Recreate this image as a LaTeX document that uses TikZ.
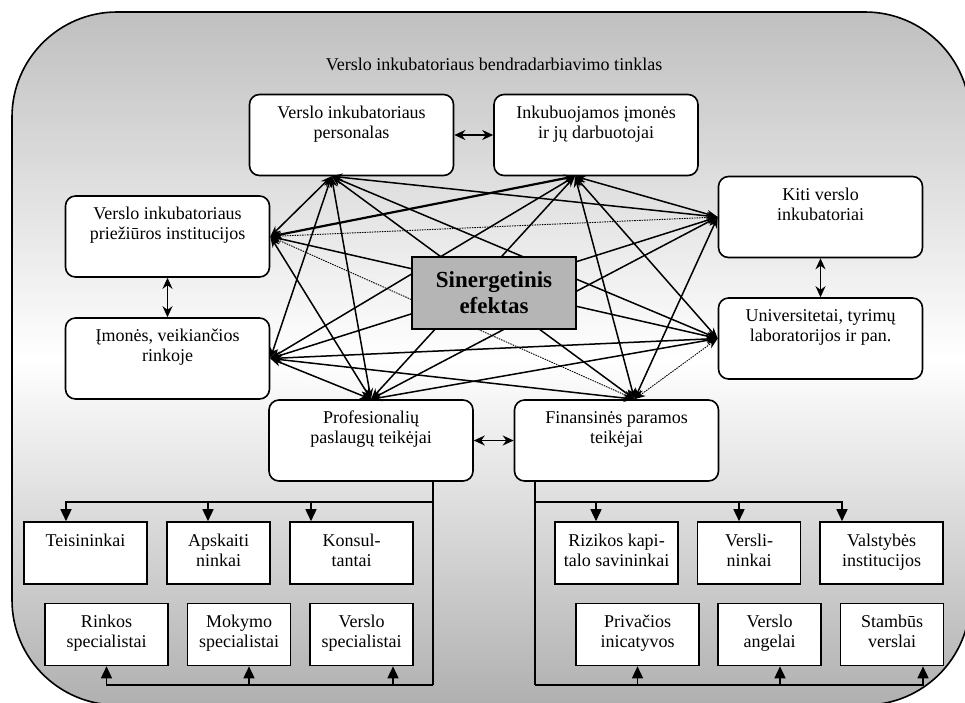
\documentclass[tikz,border=0pt]{standalone}
\usepackage{fontspec}
\setmainfont{Liberation Serif}
\usepackage{tikz}
\usetikzlibrary{arrows.meta,positioning,calc}

\begin{document}
\begin{tikzpicture}[
    x=1pt, y=-1pt,
    font=\fontsize{18}{20}\selectfont,
    block/.style={
      rectangle, draw=black, fill=white, line width=1.6pt,
      minimum height=81pt, minimum width=204pt,
      inner sep=0pt, align=center, rounded corners=10pt,
      execute at begin node=\strut, execute at end node=\strut
    },
    unit/.style={
      rectangle, draw=black, fill=white, line width=1.6pt,
      minimum height=62pt, minimum width=123pt,
      inner sep=0pt, align=center,
      execute at begin node=\strut, execute at end node=\strut
    },
    arrow/.style={{Stealth[length=11pt,width=8pt]}-{Stealth[length=11pt,width=8pt]}, line width=1.5pt},
    weak/.style={arrow, densely dotted, line width=0.9pt},
    link/.style={{Stealth[length=11pt,width=10pt]}-{Stealth[length=11pt,width=10pt]}, line width=1.7pt},
    feed/.style={-{Triangle[length=12pt,width=11pt]}, line width=1.5pt}
  ]
  \useasboundingbox (0,0) rectangle (965,702);
  % background frame
  \draw[line width=1.6pt, top color=gray!50, bottom color=gray!62, middle color=white,
    rounded corners=105pt] (12,12) rectangle (970,705);
  \node (title) at (494,64) {Verslo inkubatoriaus bendradarbiavimo tinklas};
  % Nodes -- ring
  \node[block] (pers) at (351.5,135) {Verslo inkubatoriaus\\ personalas\\ ~};
  \node[block] (inku) at (596,135) {Inkubuojamos įmonės\\ ir jų darbuotojai\\ ~};
  \node[block] (kiti) at (820.5,217) {Kiti verslo\\ inkubatoriai\\ ~};
  \node[block] (univ) at (820.5,338.5) {Universitetai, tyrimų\\ laboratorijos ir pan.\\ ~};
  \node[block] (fin) at (616.5,440.5) {Finansinės paramos\\ teikėjai\\ ~};
  \node[block] (prof) at (371,440.5) {Profesionalių\\ paslaugų teikėjai\\ ~};
  \node[block] (imon) at (167.5,358.5) {Įmonės, veikiančios\\ rinkoje\\ ~};
  \node[block] (prie) at (167.5,236.5) {Verslo inkubatoriaus\\ priežiūros institucijos\\ ~};
  % anchors of the mesh
  \coordinate (aPers) at ([xshift=-20pt]pers.south);
  \coordinate (aInku) at ([xshift=-21pt]inku.south);
  \coordinate (aKiti) at (kiti.west);
  \coordinate (aUniv) at (univ.west);
  \coordinate (aFin) at ([xshift=18pt]fin.north);
  \coordinate (aProf) at (prof.north);
  \coordinate (aImon) at (imon.east);
  \coordinate (aPrie) at (prie.east);
  % Mesh
  \draw[arrow] (aPers) -- (aKiti);
  \draw[arrow] (aPers) -- (aUniv);
  \draw[arrow] (aPers) -- (aFin);
  \draw[arrow] (aPers) -- (aProf);
  \draw[arrow] (aPers) -- (aImon);
  \draw[arrow] (aPers) -- (aPrie);
  \draw[arrow] (aInku) -- (aKiti);
  \draw[arrow] (aInku) -- (aUniv);
  \draw[arrow] (aInku) -- (aFin);
  \draw[arrow] (aInku) -- (aProf);
  \draw[arrow] (aInku) -- (aImon);
  \draw[arrow, line width=2.2pt] (aInku) -- (aPrie);
  \draw[arrow] (aKiti) -- (aFin);
  \draw[arrow] (aKiti) -- (aProf);
  \draw[arrow] (aKiti) -- (aImon);
  \draw[weak] (aKiti) -- (aPrie);
  \draw[weak] (aUniv) -- (aFin);
  \draw[arrow] (aUniv) -- (aProf);
  \draw[arrow] (aUniv) -- (aImon);
  \draw[arrow] (aUniv) -- (aPrie);
  \draw[arrow] (aFin) -- (aImon);
  \draw[weak] (aFin) -- (aPrie);
  \draw[arrow] (aProf) -- (aImon);
  \draw[arrow] (aProf) -- (aPrie);
  % side links
  \draw[link] (pers) -- (inku);
  \draw[link] (kiti) -- (univ);
  \draw[link] (prof) -- (fin);
  \draw[link] (prie) -- (imon);
  % centre
  \node[rectangle, draw=black, fill=gray!58, line width=1.6pt, minimum width=164pt,
    minimum height=72pt, align=center, font=\bfseries\fontsize{23}{26}\selectfont]
    (syn) at (494,293) {Sinergetinis\\ efektas};
  % professional services
  \node[unit] (teis) at (85.5,553) {Teisininkai\\ ~};
  \node[unit, minimum width=103pt] (apsk) at (218.5,553) {Apskaiti\\ ninkai};
  \node[unit] (kons) at (351.5,553) {Konsul-\\ tantai};
  \node[unit] (rink) at (106.5,634.5) {Rinkos\\ specialistai};
  \node[unit, minimum width=103pt] (moky) at (239,634.5) {Mokymo\\ specialistai};
  \node[unit, minimum width=103pt] (vers) at (361.5,634.5) {Verslo\\ specialistai};
  % financial support
  \node[unit] (rizi) at (616.5,553) {Rizikos kapi-\\ talo savininkai};
  \node[unit, minimum width=103pt] (vsli) at (749,553) {Versli-\\ ninkai};
  \node[unit] (vals) at (881.5,553) {Valstybės\\ institucijos};
  \node[unit] (priv) at (637.5,634.5) {Privačios\\ inicatyvos};
  \node[unit, minimum width=103pt] (vang) at (769.5,634.5) {Verslo\\ angelai};
  \node[unit, minimum width=103pt] (stam) at (892,634.5) {Stambūs\\ verslai};
  % trees
  \coordinate (ptop) at (433,502);
  \coordinate (pbot) at (433,685);
  \coordinate (ftop) at (535,502);
  \coordinate (fbot) at (535,685);
  \draw[line width=1.5pt] ([xshift=62pt]prof.south) -- (pbot);
  \draw[feed] (ptop) -| ([xshift=-19.5pt]teis.north);
  \draw[feed] (ptop) -| ([xshift=-10.5pt]apsk.north);
  \draw[feed] (ptop) -| ([xshift=-40.5pt]kons.north);
  \draw[feed] (pbot) -| (rink.south);
  \draw[feed] (pbot) -| ([xshift=10pt]moky.south);
  \draw[feed] (pbot) -| ([xshift=31.5pt]vers.south);
  \draw[line width=1.5pt] ([xshift=-81.5pt]fin.south) -- (fbot);
  \draw[feed] (ftop) -| ([xshift=-20.5pt]rizi.north);
  \draw[feed] (ftop) -| ([xshift=-10pt]vsli.north);
  \draw[feed] (ftop) -| ([xshift=-39.5pt]vals.north);
  \draw[feed] (fbot) -| (priv.south);
  \draw[feed] (fbot) -| ([xshift=10.5pt]vang.south);
  \draw[feed] (fbot) -| ([xshift=31pt]stam.south);
\end{tikzpicture}
\end{document}
